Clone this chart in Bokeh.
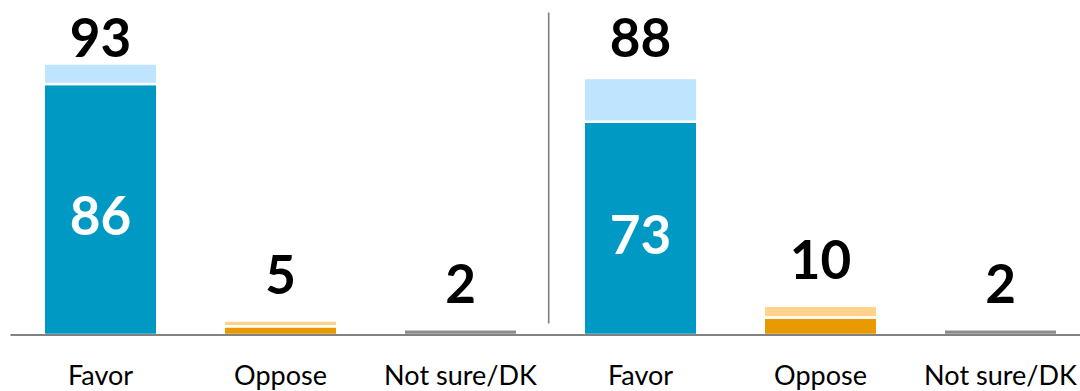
from bokeh.plotting import figure
from bokeh.models import ColumnDataSource, Range1d
from bokeh.core.properties import value
from bokeh.embed import file_html
from bokeh.resources import INLINE

# ---- data ----
categories = ["Favor", "Oppose", "Not sure/DK"]
panel_a_strong = [86, 3, 2]
panel_a_some = [7, 2, 0]
panel_a_total = [93, 5, 2]
panel_b_strong = [73, 6, 2]
panel_b_some = [15, 4, 0]
panel_b_total = [88, 10, 2]

strong_colors = ["#0099C4", "#E89A00", "#8C8C8C"]
light_colors = ["#BEE5FD", "#FFD38B", "#8C8C8C"]

# ---- layout constants (pixels) ----
W, H = 1080, 391
slot_px = 180.0
first_center_px = 100.0
px_per_unit = 2.92
baseline_px = 334.5  # from top of figure

x0 = -first_center_px / slot_px
x1 = (W - first_center_px) / slot_px
y_top = baseline_px / px_per_unit
y_bot = -(H - baseline_px) / px_per_unit

def u(px):
    return px / px_per_unit

strong = panel_a_strong + panel_b_strong
some = panel_a_some + panel_b_some
total = panel_a_total + panel_b_total
cats = categories + categories
xs = list(range(len(cats)))
sc = strong_colors + strong_colors
lc = light_colors + light_colors

p = figure(width=W, height=H, x_range=Range1d(x0, x1), y_range=Range1d(y_bot, y_top),
           output_backend="svg", toolbar_location=None, min_border=0,
           x_axis_type=None, y_axis_type=None)
p.grid.visible = False
p.outline_line_color = None
p.background_fill_color = "white"
p.border_fill_color = "white"

bar_w = 113.5 / slot_px

src_strong = ColumnDataSource(dict(x=xs, top=strong, bottom=[0] * len(xs), color=sc))
p.vbar(x="x", top="top", bottom="bottom", width=bar_w, fill_color="color",
       line_color="white", line_width=2.5, source=src_strong)

sx, stop, sbot, scol = [], [], [], []
for i in xs:
    if some[i] > 0:
        sx.append(i)
        sbot.append(strong[i])
        stop.append(strong[i] + some[i])
        scol.append(lc[i])
src_some = ColumnDataSource(dict(x=sx, top=stop, bottom=sbot, color=scol))
p.vbar(x="x", top="top", bottom="bottom", width=bar_w, fill_color="color",
       line_color="white", line_width=2.5, source=src_some)

# baseline
p.segment(x0=[-0.5], y0=[0], x1=[x1], y1=[0], line_color="#595959", line_width=1.6)

# separator between the two panels
sep_x = 2.49
p.segment(x0=[sep_x], y0=[u(baseline_px - 12)], x1=[sep_x], y1=[u(baseline_px - 323)],
          line_color="#7F7F7F", line_width=1.6)

# total labels above bars (centre of text)
clamp = u(baseline_px - 37)
top_y = [min(t + u(46), clamp) for t in total]
p.text(x=xs, y=top_y, text=[str(t) for t in total], text_align="center",
       text_baseline="middle", text_font=value("Lato"), text_font_style="bold",
       text_font_size="53px", text_color="black")

# inner labels for the big segments
ix = [i for i in xs if strong[i] >= 20]
iy = [strong[i] / 2 - u(6) for i in ix]
p.text(x=ix, y=iy, text=[str(strong[i]) for i in ix], text_align="center",
       text_baseline="middle", text_font=value("Lato"), text_font_style="bold",
       text_font_size="53px", text_color="white")

# category labels
p.text(x=xs, y=[-u(39.5)] * len(xs), text=cats, text_align="center",
       text_baseline="middle", text_font=value("Lato"),
       text_font_size="27px", text_color="black")

open("out.html", "w").write(file_html(p, INLINE))
